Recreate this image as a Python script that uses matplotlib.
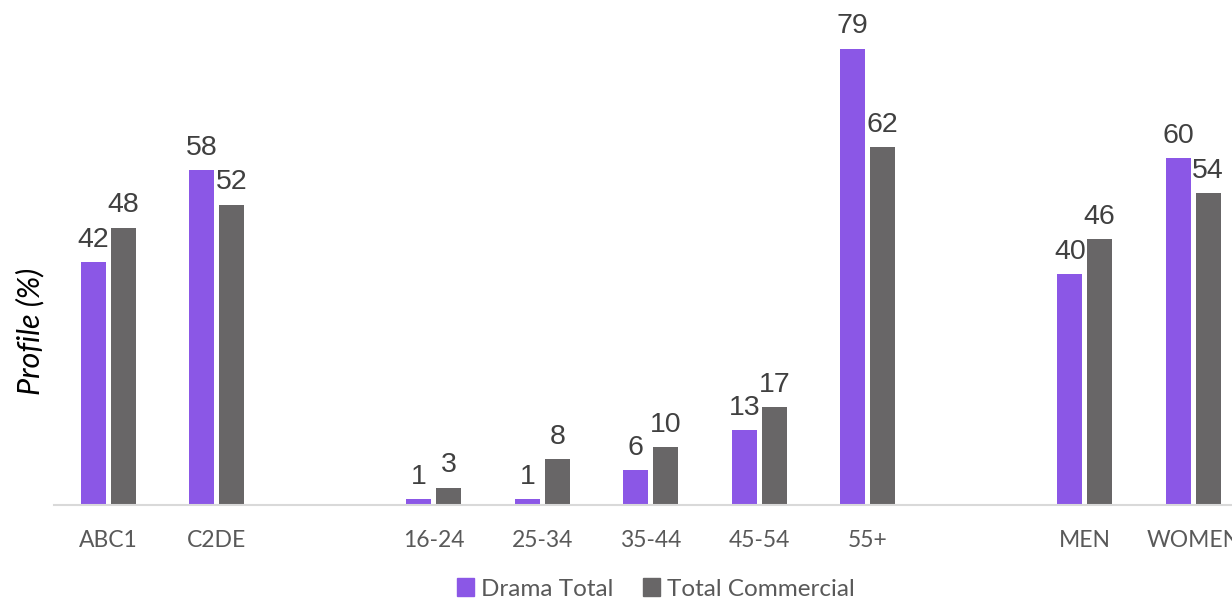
import numpy as np
import matplotlib.pyplot as plt
from matplotlib.patches import Patch

categories = ["ABC1", "C2DE", "", "16-24", "25-34", "35-44", "45-54", "55+", "", "MEN", "WOMEN"]
drama_total = [42, 58, None, 1, 1, 6, 13, 79, None, 40, 60]
total_commercial = [48, 52, None, 3, 8, 10, 17, 62, None, 46, 54]

PURPLE = "#8b57e6"
GREY = "#686667"
TEXT = "#404040"

fig = plt.figure(figsize=(12.32, 6.05), dpi=100)
ax = fig.add_axes([54 / 1232, 100 / 605, 1193.5 / 1232, 491 / 605])

x = np.arange(len(categories))
width = 0.23
offset = 0.138

for xi, d, t in zip(x, drama_total, total_commercial):
    if d is None:
        continue
    ax.bar(xi - offset, d, width, color=PURPLE, zorder=2)
    ax.bar(xi + offset, t, width, color=GREY, zorder=2)
    ax.text(xi - offset, d + 1.6, str(d), ha="center", va="bottom",
            fontsize=20.5, color=TEXT, family="Liberation Sans", clip_on=False)
    ax.text(xi + offset, t + 1.6, str(t), ha="center", va="bottom",
            fontsize=20.5, color=TEXT, family="Liberation Sans", clip_on=False)

ax.set_xlim(-0.5, len(categories) - 0.5)
ax.set_ylim(0, 85)
ax.set_xticks(x)
ax.set_xticklabels(categories, fontsize=16.5, color="#595959", family="Lato")
ax.tick_params(axis="x", length=0, pad=18)
ax.set_yticks([])
for s in ["top", "right", "left"]:
    ax.spines[s].set_visible(False)
ax.spines["bottom"].set_color("#d9d9d9")
ax.spines["bottom"].set_linewidth(1.5)

fig.text(30 / 1232, 1 - 331 / 605, "Profile (%)", rotation=90, ha="center", va="center",
         fontsize=22, style="italic", color="black", family="Lato")

handles = [Patch(color=PURPLE, label="Drama Total"), Patch(color=GREY, label="Total Commercial")]
fig.legend(handles=handles, loc="center", bbox_to_anchor=(656 / 1232, 1 - 589 / 605),
           ncol=2, frameon=False, handlelength=0.7, handleheight=0.7,
           handletextpad=0.3, columnspacing=1.2, labelcolor="#595959",
           prop={"family": "Lato", "size": 17.5})

fig.savefig("out.png", dpi=100)
